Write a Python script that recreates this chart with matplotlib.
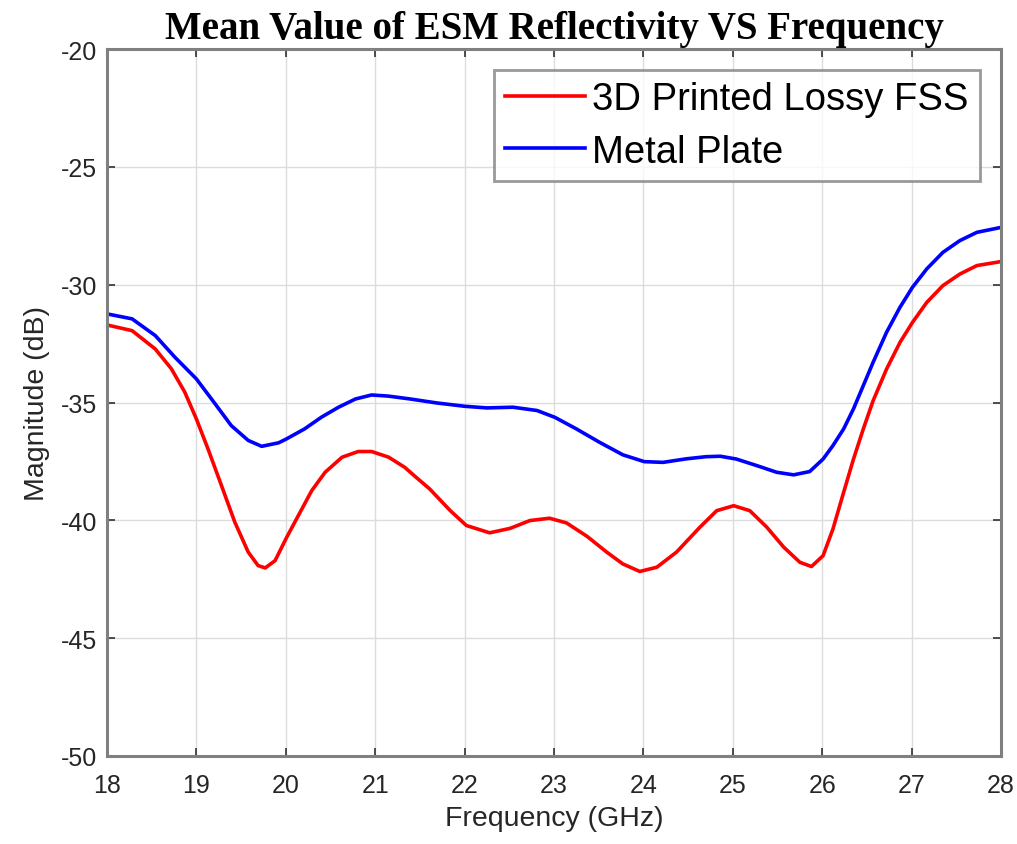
import matplotlib
matplotlib.use("Agg")
import matplotlib.pyplot as plt

# Frequency samples (GHz) and reflectivity (dB) for each surface
freq_fss = [18.0, 18.28, 18.54, 18.72, 18.87, 19.0, 19.13, 19.28, 19.43, 19.58, 19.69, 19.77,
            19.88, 20.01, 20.14, 20.29, 20.44, 20.63, 20.81, 20.96, 21.15, 21.33, 21.45,
            21.61, 21.84, 22.02, 22.28, 22.51, 22.73, 22.95, 23.14, 23.37, 23.59, 23.77,
            23.96, 24.15, 24.37, 24.63, 24.82, 25.01, 25.19, 25.38, 25.57, 25.75, 25.88,
            26.01, 26.12, 26.24, 26.35, 26.46, 26.57, 26.72, 26.87, 27.01, 27.17, 27.35,
            27.54, 27.73, 28.0]
mag_fss = [-31.71, -31.95, -32.73, -33.57, -34.56, -35.70, -36.97, -38.52, -40.08, -41.35, -41.92, -42.02,
           -41.71, -40.72, -39.80, -38.74, -37.96, -37.32, -37.08, -37.08, -37.32, -37.75, -38.15,
           -38.67, -39.59, -40.22, -40.53, -40.34, -40.01, -39.91, -40.11, -40.68, -41.35, -41.85,
           -42.17, -41.99, -41.35, -40.30, -39.59, -39.38, -39.59, -40.29, -41.14, -41.78, -41.96,
           -41.50, -40.37, -38.81, -37.40, -36.12, -34.92, -33.58, -32.45, -31.60, -30.75, -30.04,
           -29.55, -29.19, -29.02]

freq_metal = [18.0, 18.28, 18.54, 18.76, 19.0, 19.21, 19.39, 19.58, 19.73, 19.92, 20.01, 20.21,
              20.40, 20.59, 20.78, 20.96, 21.15, 21.39, 21.69, 22.0, 22.25, 22.54, 22.81, 23.01,
              23.25, 23.51, 23.77, 24.01, 24.22, 24.48, 24.70, 24.86, 25.04, 25.27, 25.49, 25.68,
              25.86, 26.01, 26.12, 26.24, 26.35, 26.46, 26.57, 26.72, 26.87, 27.01, 27.17, 27.35,
              27.54, 27.73, 28.0]
mag_metal = [-31.24, -31.45, -32.16, -33.08, -34.0, -35.06, -35.98, -36.61, -36.86, -36.71, -36.54, -36.12,
             -35.62, -35.20, -34.85, -34.68, -34.73, -34.85, -35.02, -35.16, -35.23, -35.20, -35.34, -35.63,
             -36.12, -36.69, -37.22, -37.51, -37.54, -37.39, -37.30, -37.28, -37.40, -37.68, -37.96, -38.07,
             -37.93, -37.40, -36.83, -36.12, -35.27, -34.28, -33.29, -32.02, -30.96, -30.11, -29.33, -28.63,
             -28.13, -27.78, -27.57]

labels = ["3D Printed Lossy FSS", "Metal Plate"]
x_ticks = list(range(18, 29))
y_ticks = list(range(-50, -19, 5))

plt.rcParams["font.family"] = ["Liberation Sans", "DejaVu Sans"]
plt.rcParams["axes.unicode_minus"] = False
plt.rcParams["lines.solid_joinstyle"] = "round"

fig = plt.figure(figsize=(10.17, 8.45), dpi=100)
ax = fig.add_axes([107 / 1017, 88 / 845, 894 / 1017, 707 / 845])

ax.plot(freq_fss, mag_fss, color="#ff0000", lw=2.6, label=labels[0])
ax.plot(freq_metal, mag_metal, color="#0000ff", lw=2.6, label=labels[1])

ax.set_xlim(18, 28)
ax.set_ylim(-50, -20)
ax.set_xticks(x_ticks)
ax.set_yticks(y_ticks)
ax.grid(True, color="#dcdcdc", lw=1.0)
ax.set_axisbelow(True)

for s in ax.spines.values():
    s.set_color("#808080")
    s.set_linewidth(2.2)

ax.tick_params(direction="in", length=6, width=1.2, color="#303030",
               top=True, right=True, labelsize=18, labelcolor="#262626")
ax.tick_params(axis="x", pad=12)
ax.tick_params(axis="y", pad=7)

ax.set_xlabel("Frequency (GHz)", fontsize=20.5, color="#262626", labelpad=6)
ax.set_ylabel("Magnitude (dB)", fontsize=20.5, color="#262626", labelpad=8)
ax.set_title("Mean Value of ESM Reflectivity VS Frequency",
             fontsize=28, fontweight="bold", family=["Liberation Serif", "DejaVu Serif"],
             pad=8)

leg = ax.legend(loc="upper right", fontsize=27.5, frameon=True, fancybox=False,
                edgecolor="#808080", handlelength=2.1, handletextpad=0.18,
                borderpad=0.3, labelspacing=0.42, borderaxespad=0.55)
leg.get_frame().set_linewidth(2.0)
for ln in leg.get_lines():
    ln.set_linewidth(2.6)

fig.savefig("out.png", dpi=100)
